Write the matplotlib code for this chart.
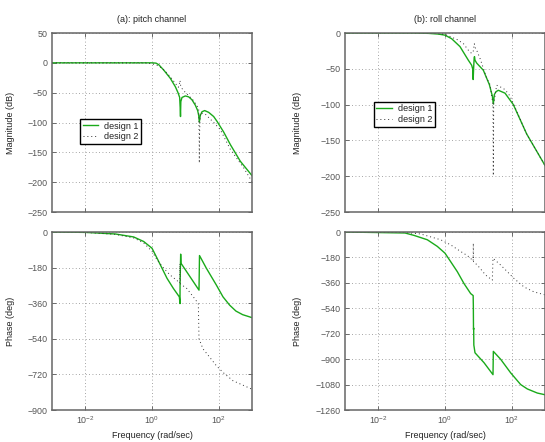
import matplotlib
matplotlib.use("Agg")
import matplotlib.pyplot as plt
import numpy as np

plt.rcParams['font.family'] = ['Liberation Sans', 'DejaVu Sans']
plt.rcParams['mathtext.fontset'] = 'custom'
plt.rcParams['mathtext.rm'] = 'Liberation Sans'
plt.rcParams['mathtext.it'] = 'Liberation Sans'

# frequencies given as log10(rad/sec)
pitch_mag1_lw = [-3, 0.0, 0.12, 0.2, 0.35, 0.55, 0.7, 0.78, 0.83, 0.845, 0.855, 0.865, 0.9, 1.0, 1.1, 1.2,
                 1.3, 1.37, 1.40, 1.42, 1.45, 1.5, 1.58, 1.7, 1.85, 1.95, 2.15, 2.35, 2.65, 3.0]
pitch_mag1 = [0, 0, -0.5, -3, -12, -26, -40, -50, -58, -75, -90, -65, -58, -55.5, -57, -62,
              -71, -80, -88, -99.5, -88, -82, -80, -83, -90, -98, -116, -137, -165, -189]
pitch_mag2_lw = [-3, -0.2, 0.0, 0.2, 0.4, 0.6, 0.75, 0.79, 0.82, 0.84, 0.86, 0.9, 0.99, 1.1, 1.24, 1.35,
                 1.40, 1.415, 1.42, 1.425, 1.45, 1.6, 1.85, 2.05, 2.35, 2.75, 3.0]
pitch_mag2 = [0, 0, -1.5, -5, -14, -27, -38, -41, -36, -29.5, -38, -43, -49, -55, -63, -72,
              -78, -120, -168, -120, -84, -86, -100, -112, -145, -176, -199]

roll_mag1_lw = [-3, -1, -0.5, -0.2, 0, 0.2, 0.45, 0.7, 0.8, 0.83, 0.845, 0.86, 0.875, 0.885, 0.9, 0.95,
                1.15, 1.33, 1.42, 1.45, 1.48, 1.53, 1.6, 1.8, 2.05, 2.45, 3.0]
roll_mag1 = [0, 0, -0.5, -1.5, -3, -8, -19, -38, -45, -50, -65, -48, -35, -33, -38, -42,
             -52, -72, -88, -99, -86, -82, -80, -84, -100, -141, -185]
roll_mag2_lw = [-3, -1, -0.3, 0, 0.35, 0.55, 0.7, 0.8, 0.85, 0.88, 0.9, 0.95, 1.05, 1.15, 1.25, 1.35,
                1.44, 1.45, 1.46, 1.55, 1.65, 1.8, 1.95, 2.45, 3.0]
roll_mag2 = [0, 0, -0.5, -2, -8.8, -14.7, -24, -28.6, -25, -15, -20, -24, -35.5, -49, -63, -72,
             -100, -199, -100, -73, -75, -79, -88, -141, -185]

pitch_ph1_lw = [-3, -2, -1.1, -0.55, -0.25, 0, 0.15, 0.3, 0.45, 0.64, 0.82, 0.84, 0.842, 0.86, 0.87,
                1.41, 1.425, 1.63, 1.93, 2.13, 2.33, 2.52, 2.72, 3.0]
pitch_ph1 = [0, -2, -10, -25, -48, -82, -132, -183, -234, -285, -328, -362, -268, -112, -158,
             -294, -119, -183, -268, -328, -370, -400, -418, -433]
pitch_ph2_lw = [-3, -2, -1.1, -0.55, -0.25, 0, 0.15, 0.35, 0.54, 0.79, 0.83, 0.84, 0.85, 1.04, 1.24,
                1.39, 1.41, 1.53, 1.73, 1.93, 2.13, 2.43, 3.0]
pitch_ph2 = [0, -2, -12, -30, -55, -98, -140, -183, -217, -251, -258, -160, -262, -285, -328,
             -362, -540, -591, -633, -676, -710, -752, -795]

roll_ph1_lw = [-3, -1.2, -0.93, -0.53, -0.23, 0, 0.17, 0.37, 0.57, 0.77, 0.845, 0.85, 0.855, 0.86,
               0.865, 0.9, 1.17, 1.44, 1.45, 1.67, 1.97, 2.27, 2.47, 2.77, 3.0]
roll_ph1 = [0, -7, -24, -55, -102, -150, -210, -281, -365, -436, -450, -520, -690, -680,
            -800, -855, -925, -1010, -845, -901, -997, -1080, -1111, -1140, -1152]
roll_ph2_lw = [-3, -1.2, -0.73, -0.13, 0.17, 0.47, 0.67, 0.82, 0.845, 0.85, 0.855, 0.97, 1.22, 1.42,
               1.44, 1.67, 1.87, 2.07, 2.37, 2.67, 3.0]
roll_ph2 = [0, -3, -14, -55, -91, -138, -167, -198, -205, -79, -211, -234, -305, -341,
            -186, -234, -281, -329, -389, -424, -445]

xticks = [1e-2, 1e0, 1e2]
xticklabels = ['$10^{-2}$', '$10^{0}$', '$10^{2}$']

green = '#1aaa1a'
W, H = 545, 442
fig = plt.figure(figsize=(W / 100, H / 100), dpi=100)


def px_axes(l, t, r, b):
    return fig.add_axes([l / W, 1 - b / H, (r - l) / W, (b - t) / H])


def style(ax, ylim, yticks):
    ax.set_xscale('log')
    ax.set_xlim(1e-3, 1e3)
    ax.set_ylim(*ylim)
    ax.set_yticks(yticks)
    ax.set_xticks(xticks)
    ax.xaxis.set_minor_locator(matplotlib.ticker.NullLocator())
    ax.grid(True, color='#888888', linestyle=(0, (1, 3)), linewidth=0.6)
    ax.tick_params(direction='in', length=3, width=0.6, colors='#555555', labelsize=6.4,
                   top=True, right=True, pad=3)
    for s in ax.spines.values():
        s.set_color('#666666')
        s.set_linewidth(1.1)


def draw(ax, lw1, y1, lw2, y2):
    ax.plot(np.power(10.0, lw1), y1, color=green, lw=1.0, label='design 1')
    ax.plot(np.power(10.0, lw2), y2, color='#333333', lw=0.7, linestyle=(0, (1, 3)), label='design 2')


ax1 = px_axes(52, 33, 252, 212)
draw(ax1, pitch_mag1_lw, pitch_mag1, pitch_mag2_lw, pitch_mag2)
style(ax1, (-250, 50), [-250, -200, -150, -100, -50, 0, 50])
ax1.set_xticklabels([])
ax1.set_title('(a): pitch channel', fontsize=6.5, pad=8, color='#222222')
ax1.set_ylabel('Magnitude (dB)', fontsize=6.5, color='#222222')
ax1.yaxis.set_label_coords(-0.185, 0.5)

ax2 = px_axes(345, 33, 545, 212)
draw(ax2, roll_mag1_lw, roll_mag1, roll_mag2_lw, roll_mag2)
style(ax2, (-250, 0), [-250, -200, -150, -100, -50, 0])
ax2.set_xticklabels([])
ax2.set_title('(b): roll channel', fontsize=6.5, pad=8, color='#222222')
ax2.set_ylabel('Magnitude (dB)', fontsize=6.5, color='#222222')
ax2.yaxis.set_label_coords(-0.215, 0.5)

ax3 = px_axes(52, 232, 252, 410)
draw(ax3, pitch_ph1_lw, pitch_ph1, pitch_ph2_lw, pitch_ph2)
style(ax3, (-900, 0), [-900, -720, -540, -360, -180, 0])
ax3.set_xticklabels(xticklabels)
ax3.set_ylabel('Phase (deg)', fontsize=6.5, color='#222222')
ax3.yaxis.set_label_coords(-0.185, 0.5)
ax3.set_xlabel('Frequency (rad/sec)', fontsize=6.5, color='#222222')
ax3.xaxis.set_label_coords(0.5, -0.12)

ax4 = px_axes(345, 232, 545, 410)
draw(ax4, roll_ph1_lw, roll_ph1, roll_ph2_lw, roll_ph2)
style(ax4, (-1260, 0), [-1260, -1080, -900, -720, -540, -360, -180, 0])
ax4.set_xticklabels(xticklabels)
ax4.set_ylabel('Phase (deg)', fontsize=6.5, color='#222222')
ax4.yaxis.set_label_coords(-0.215, 0.5)
ax4.set_xlabel('Frequency (rad/sec)', fontsize=6.5, color='#222222')
ax4.xaxis.set_label_coords(0.5, -0.12)

for ax, anchor in [(ax1, (0.14, 0.52)), (ax2, (0.1435, 0.616))]:
    leg = ax.legend(loc='upper left', bbox_to_anchor=anchor, borderaxespad=0, fontsize=6.5,
                    fancybox=False, framealpha=1, edgecolor='black', handlelength=1.7,
                    handletextpad=0.7, borderpad=0.3, labelspacing=0.15)
    leg.get_frame().set_linewidth(1.0)
    for t in leg.get_texts():
        t.set_color('#222222')

fig.savefig('out.png', dpi=100)
